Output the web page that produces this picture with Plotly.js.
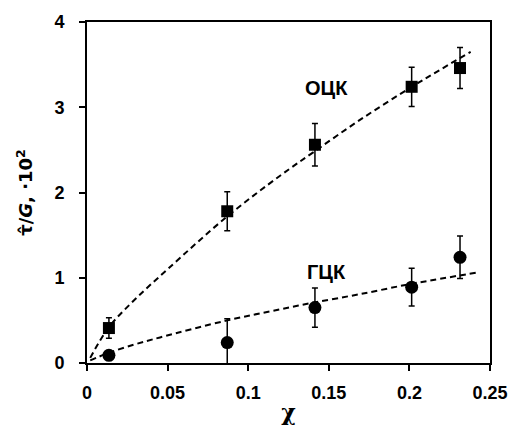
<!DOCTYPE html>
<html>
<head>
<meta charset="utf-8">
<script src="https://cdn.plot.ly/plotly-3.0.1.min.js"></script>
<style>html,body{margin:0;padding:0;background:#fff;}#chart{width:514px;height:425px;}</style>
</head>
<body>
<div id="chart"></div>
<script>
// Data
const xPts = [0.0136, 0.087, 0.1414, 0.2014, 0.2314];
const bccY = [0.41, 1.78, 2.56, 3.24, 3.46];
const bccErr = [0.12, 0.23, 0.25, 0.23, 0.24];
const fccY = [0.09, 0.24, 0.65, 0.89, 1.24];
const fccErr = [0.05, 0.28, 0.23, 0.22, 0.25];

// Dashed fit curves
const bccFitX = [0.002, 0.0136, 0.03, 0.05, 0.087, 0.12, 0.141, 0.17, 0.2015, 0.22, 0.238];
const bccFitY = [0.06, 0.42, 0.75, 1.1, 1.72, 2.2, 2.48, 2.86, 3.24, 3.45, 3.65];
const fccFitX = [0.002, 0.0136, 0.03, 0.0453, 0.087, 0.12, 0.141, 0.17, 0.2015, 0.22, 0.2413];
const fccFitY = [0.03, 0.12, 0.22, 0.3, 0.5, 0.63, 0.71, 0.81, 0.93, 0.99, 1.06];

const xTicks = [0, 0.05, 0.1, 0.15, 0.2, 0.25];
const xTickText = ['0', '0.05', '0.1', '0.15', '0.2', '0.25'];
const yTicks = [0, 1, 2, 3, 4];
const yTickText = ['0', '1', '2', '3', '4'];
const labels = ['ОЦК', 'ГЦК'];

const bold = s => '<b>' + s + '</b>';
const fitLine = {color: '#000', width: 2, dash: '6px,4px'};
const traces = [
  {x: bccFitX, y: bccFitY, mode: 'lines', line: Object.assign({shape: 'spline'}, fitLine), hoverinfo: 'skip'},
  {x: fccFitX, y: fccFitY, mode: 'lines', line: Object.assign({shape: 'spline'}, fitLine), hoverinfo: 'skip'},
  {x: xPts, y: bccY, mode: 'markers', marker: {symbol: 'square', size: 12, color: '#000'},
   error_y: {type: 'data', array: bccErr, visible: true, color: '#000', thickness: 1.5, width: 3}},
  {x: xPts, y: fccY, mode: 'markers', marker: {symbol: 'circle', size: 13, color: '#000'},
   error_y: {type: 'data', array: fccErr, visible: true, color: '#000', thickness: 1.5, width: 3}}
];

const FAM = 'Liberation Sans, Arial, sans-serif';
const tickFont = {family: FAM, size: 18, color: '#000', weight: 700};
const layout = {
  width: 514, height: 425,
  margin: {l: 87, r: 24, t: 22, b: 62},
  paper_bgcolor: '#fff', plot_bgcolor: '#fff',
  showlegend: false,
  xaxis: {
    range: [0, 0.25], tickvals: xTicks, ticktext: xTickText,
    showgrid: false, zeroline: false, showline: true, linecolor: '#000', linewidth: 2, mirror: true,
    ticks: 'outside', ticklen: 6, tickwidth: 2, tickcolor: '#000', ticklabelstandoff: 6,
    tickfont: tickFont,
    title: {text: 'χ', font: {family: 'DejaVu Serif, Liberation Serif, serif', size: 22, color: '#000', weight: 700}, standoff: 4}
  },
  yaxis: {
    range: [0, 4], tickvals: yTicks, ticktext: yTickText,
    showgrid: false, zeroline: false, showline: true, linecolor: '#000', linewidth: 2, mirror: true,
    ticks: 'outside', ticklen: 6, tickwidth: 2, tickcolor: '#000', ticklabelstandoff: 11,
    tickfont: tickFont,
    title: {text: 'τ̂/<i>G</i>, ·10<sup>2</sup>', font: {family: 'DejaVu Sans, Liberation Sans, sans-serif', size: 18, color: '#000', weight: 700}, standoff: 17}
  },
  annotations: [
    {x: 0.1488, y: 3.23, xref: 'x', yref: 'y', text: labels[0], showarrow: false,
     font: {family: FAM, size: 20, color: '#000', weight: 700}},
    {x: 0.1488, y: 1.07, xref: 'x', yref: 'y', text: labels[1], showarrow: false,
     font: {family: FAM, size: 20, color: '#000', weight: 700}}
  ]
};
Plotly.newPlot('chart', traces, layout, {displayModeBar: false, staticPlot: true});
</script>
</body>
</html>
